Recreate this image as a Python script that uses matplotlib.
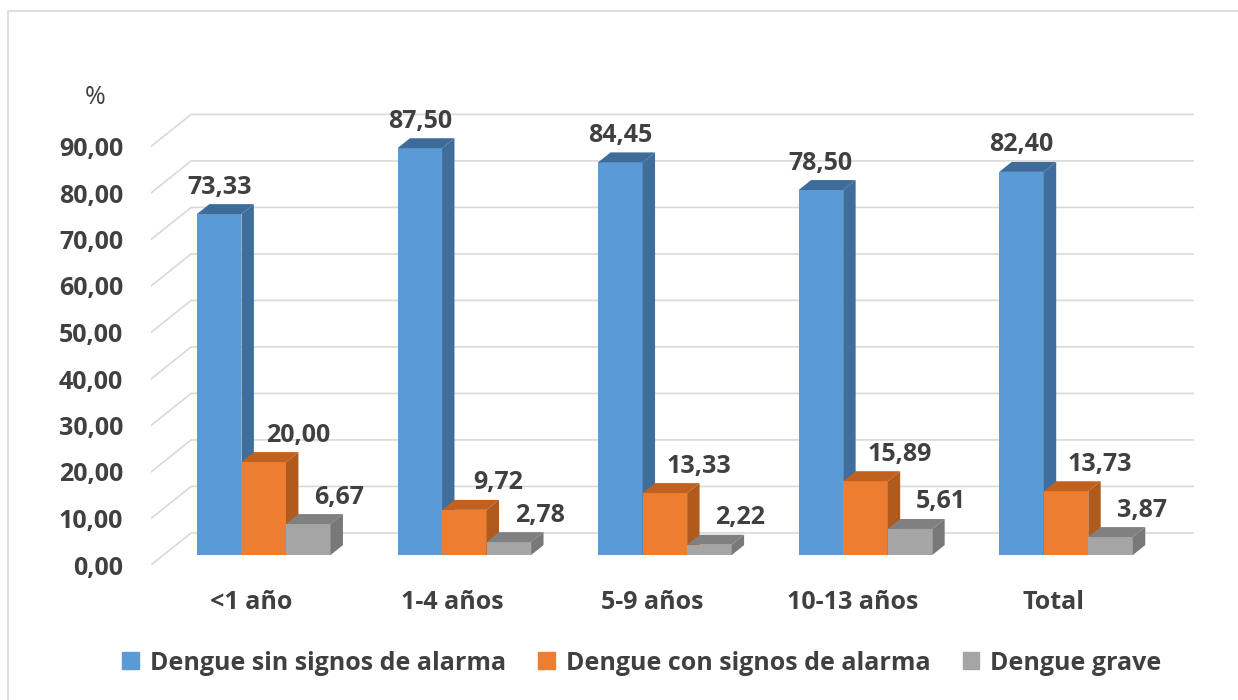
import matplotlib.pyplot as plt
from matplotlib.patches import Rectangle, Patch

# datos del grafico
categorias = ["<1 año", "1-4 años", "5-9 años", "10-13 años", "Total"]
sin_signos = [73.33, 87.50, 84.45, 78.50, 82.40]
con_signos = [20.00, 9.72, 13.33, 15.89, 13.73]
grave = [6.67, 2.78, 2.22, 5.61, 3.87]
series_nombres = ["Dengue sin signos de alarma", "Dengue con signos de alarma", "Dengue grave"]
ticks_y = list(range(0, 100, 10))

# colores: frente, lateral, arriba
colores = [("#5b9bd5", "#3f6e9c", "#3e6c9a"),
           ("#ed7d31", "#b15a1d", "#c0611f"),
           ("#a5a5a5", "#787878", "#808080")]

texto = "#404040"
fuente = "Open Sans"
tam = 18
peso = "bold"

# geometria del falso 3D (en unidades de datos)
DX = 0.2      # desplazamiento horizontal de la pared del fondo
DY = 6.9      # desplazamiento vertical de la pared del fondo
z0 = 0.31     # profundidad de la cara frontal de las barras
z1 = 0.62     # profundidad de la cara trasera
W = 0.222     # ancho de cada barra
label_dx = [0.0, 0.17, 0.155]

fig = plt.figure(figsize=(12.38, 7.0), dpi=100)
ax = fig.add_axes([151 / 1238, 135 / 700, 1043 / 1238, 465 / 700])
ax.set_xlim(-0.5, 4.7)
ax.set_ylim(0, 100)
for s in ax.spines.values():
    s.set_visible(False)

# lineas de la cuadricula: diagonal en el piso + pared del fondo
for v in ticks_y:
    ax.plot([-0.5, -0.5 + DX, 4.5 + DX], [v, v + DY, v + DY],
            color="#d9d9d9", lw=1.2, zorder=1)

valores = [sin_signos, con_signos, grave]
for i in range(len(categorias)):
    for s in range(3):
        v = valores[s][i]
        cf, cl, ct = colores[s]
        xl = i - 1.5 * W + s * W
        xr = xl + W
        # cara frontal
        ax.bar(xl + z0 * DX, v, width=W, bottom=z0 * DY, align="edge",
               color=cf, linewidth=0, zorder=2)
        # cara superior
        ax.fill([xl + z0 * DX, xr + z0 * DX, xr + z1 * DX, xl + z1 * DX],
                [v + z0 * DY, v + z0 * DY, v + z1 * DY, v + z1 * DY],
                color=ct, linewidth=0, zorder=2)
        # cara lateral
        ax.fill([xr + z0 * DX, xr + z1 * DX, xr + z1 * DX, xr + z0 * DX],
                [z0 * DY, z1 * DY, v + z1 * DY, v + z0 * DY],
                color=cl, linewidth=0, zorder=2)
        # etiqueta de valor
        ax.text(xl + z0 * DX + W / 2 + label_dx[s], v + z0 * DY + 5.8,
                f"{v:.2f}".replace(".", ","), ha="center", va="center",
                fontsize=tam, color=texto, family=fuente, fontweight=peso,
                zorder=3, clip_on=False)

ax.set_yticks(ticks_y)
ax.set_yticklabels([f"{t:.2f}".replace(".", ",") for t in ticks_y])
ax.set_xticks(range(len(categorias)))
ax.set_xticklabels(categorias)
ax.tick_params(axis="y", length=0, pad=20)
ax.tick_params(axis="x", length=0, pad=18)
for lab in ax.get_xticklabels() + ax.get_yticklabels():
    lab.set_fontsize(tam)
    lab.set_color(texto)
    lab.set_family(fuente)
    lab.set_fontweight(peso)

fig.text(95 / 1238, 1 - 98 / 700, "%", ha="center", va="center",
         fontsize=tam, color=texto, family=fuente)

manejadores = [Patch(color=c[0]) for c in colores]
fig.legend(manejadores, series_nombres, loc="center", ncol=3,
           bbox_to_anchor=(642 / 1238, 1 - 663 / 700), frameon=False,
           handlelength=0.65, handleheight=0.65, handletextpad=0.45,
           columnspacing=1.3,
           prop={"family": fuente, "size": tam, "weight": peso},
           labelcolor=texto)

# borde del grafico
fig.patches.append(Rectangle((8 / 1238, -0.02), 1.1, 1.02 + (1 - 11 / 700) - 1,
                             transform=fig.transFigure, fill=False,
                             edgecolor="#d9d9d9", lw=1.2))

fig.savefig("out.png", dpi=100)
